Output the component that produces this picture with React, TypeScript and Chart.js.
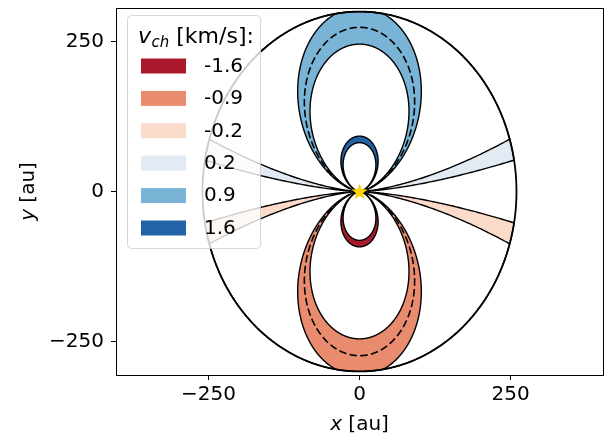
import React, { useEffect, useRef } from 'react';
import { Chart, registerables } from 'chart.js';

Chart.register(...registerables);

// ---- data ----
const channelVelocities = [-1.6, -0.9, -0.2, 0.2, 0.9, 1.6]; // km/s
const channelLabels = ['-1.6', '-0.9', '-0.2', '0.2', '0.9', '1.6'];
const channelColors = ['#a9182b', '#e98b6f', '#fbdccb', '#e2ebf3', '#79b4d6', '#2163a6'];
const channelHalfWidth = [0.05]; // km/s
const dashedVelocities = [-0.9, 0.9]; // km/s
const stellarMassMsun = [1.0];
const inclinationDeg = [30];
const diskRadiusAu = [300];
const xTickValues = [-250, 0, 250];
const yTickValues = [-250, 0, 250];
const xRange = [-403, 403];
const yRange = [-306, 306];

const GM_SUN = 887.13; // au (km/s)^2
const SAMPLES = 1400;
const FONT = "'DejaVu Sans', sans-serif";

type P = { x: number; y: number };

function geometry() {
  const inc = (inclinationDeg[0] * Math.PI) / 180;
  const K = GM_SUN * stellarMassMsun[0] * Math.sin(inc) ** 2;
  return { K, cosI: Math.cos(inc), R: diskRadiusAu[0] };
}

function isoRadius(phi: number, speed: number, K: number, R: number) {
  const c = Math.cos(phi);
  return Math.min(R, (K * c * c) / (speed * speed));
}

function toSky(r: number, phi: number, sign: number, cosI: number): P {
  return { x: r * Math.sin(phi) * cosI, y: sign * r * Math.cos(phi) };
}

function channelPolygon(v: number): P[] {
  const { K, cosI, R } = geometry();
  const s = Math.sign(v);
  const a = Math.abs(v);
  const dv = channelHalfWidth[0];
  const pts: P[] = [];
  for (let k = 0; k <= SAMPLES; k++) {
    const phi = -Math.PI / 2 + (Math.PI * k) / SAMPLES;
    pts.push(toSky(isoRadius(phi, a - dv, K, R), phi, s, cosI));
  }
  for (let k = SAMPLES; k >= 0; k--) {
    const phi = -Math.PI / 2 + (Math.PI * k) / SAMPLES;
    pts.push(toSky(isoRadius(phi, a + dv, K, R), phi, s, cosI));
  }
  return pts;
}

function isoCurve(v: number): P[] {
  const { K, cosI, R } = geometry();
  const s = Math.sign(v);
  const a = Math.abs(v);
  const pts: P[] = [];
  for (let k = 0; k <= SAMPLES; k++) {
    const phi = -Math.PI / 2 + (Math.PI * k) / SAMPLES;
    pts.push(toSky(isoRadius(phi, a, K, R), phi, s, cosI));
  }
  return pts;
}

function diskEdge(): P[] {
  const { cosI, R } = geometry();
  const pts: P[] = [];
  for (let k = 0; k <= 720; k++) {
    const t = (2 * Math.PI * k) / 720;
    pts.push({ x: R * Math.sin(t) * cosI, y: R * Math.cos(t) });
  }
  return pts;
}

function makeStar(): HTMLCanvasElement {
  const c = document.createElement('canvas');
  c.width = 17;
  c.height = 17;
  const g = c.getContext('2d')!;
  g.beginPath();
  for (let i = 0; i < 10; i++) {
    const r = i % 2 === 0 ? 7.8 : 3.2;
    const ang = -Math.PI / 2 + (i * Math.PI) / 5;
    const x = 8.5 + r * Math.cos(ang);
    const y = 9.2 + r * Math.sin(ang);
    if (i === 0) g.moveTo(x, y);
    else g.lineTo(x, y);
  }
  g.closePath();
  g.fillStyle = '#ffd700';
  g.fill();
  g.strokeStyle = '#f2c200';
  g.lineWidth = 0.6;
  g.stroke();
  return c;
}

const fmtTick = (v: number | string) => {
  const n = Number(v);
  return n < 0 ? '\u2212' + Math.abs(n) : String(n);
};

const annotationPlugin = {
  id: 'channelAnnotations',
  afterDraw(chart: any) {
    const ctx: CanvasRenderingContext2D = chart.ctx;
    const area = chart.chartArea;
    ctx.save();

    // ---- legend ----
    const bx = 127.5, by = 15.5, bw = 133, bh = 233, rad = 4;
    ctx.beginPath();
    ctx.moveTo(bx + rad, by);
    ctx.lineTo(bx + bw - rad, by);
    ctx.arcTo(bx + bw, by, bx + bw, by + rad, rad);
    ctx.lineTo(bx + bw, by + bh - rad);
    ctx.arcTo(bx + bw, by + bh, bx + bw - rad, by + bh, rad);
    ctx.lineTo(bx + rad, by + bh);
    ctx.arcTo(bx, by + bh, bx, by + bh - rad, rad);
    ctx.lineTo(bx, by + rad);
    ctx.arcTo(bx, by, bx + rad, by, rad);
    ctx.closePath();
    ctx.fillStyle = 'rgba(255,255,255,0.8)';
    ctx.fill();
    ctx.strokeStyle = 'rgba(204,204,204,0.8)';
    ctx.lineWidth = 1;
    ctx.stroke();

    ctx.fillStyle = '#000';
    ctx.textAlign = 'left';
    ctx.textBaseline = 'alphabetic';
    let tx = 138;
    ctx.font = `italic 22px ${FONT}`;
    ctx.fillText('v', tx, 43);
    tx += ctx.measureText('v').width + 0.5;
    ctx.font = `italic 15px ${FONT}`;
    ctx.fillText('ch', tx, 47);
    tx += ctx.measureText('ch').width;
    ctx.font = `22px ${FONT}`;
    ctx.fillText(' [km/s]:', tx, 43);

    ctx.textBaseline = 'middle';
    ctx.font = `20px ${FONT}`;
    channelLabels.forEach((lab, i) => {
      const y = 58.5 + i * 32.4;
      ctx.fillStyle = channelColors[i];
      ctx.fillRect(141, y, 45, 15);
      ctx.fillStyle = '#000';
      ctx.fillText(lab, 204, y + 8);
    });

    // ---- axis titles ----
    ctx.textBaseline = 'alphabetic';
    const cx = (area.left + area.right) / 2;
    ctx.font = `italic 20px ${FONT}`;
    const wx = ctx.measureText('x').width;
    ctx.font = `20px ${FONT}`;
    const wr = ctx.measureText(' [au]').width;
    let sx = cx - (wx + wr) / 2;
    ctx.font = `italic 20px ${FONT}`;
    ctx.fillText('x', sx, 430);
    ctx.font = `20px ${FONT}`;
    ctx.fillText(' [au]', sx + wx, 430);

    const cy = (area.top + area.bottom) / 2;
    ctx.translate(34, cy);
    ctx.rotate(-Math.PI / 2);
    ctx.font = `italic 20px ${FONT}`;
    const wy = ctx.measureText('y').width;
    sx = -(wy + wr) / 2;
    ctx.fillText('y', sx, 0);
    ctx.font = `20px ${FONT}`;
    ctx.fillText(' [au]', sx + wy, 0);

    ctx.restore();
  },
};

const zeroPad = (s: any) => {
  s.paddingTop = 0;
  s.paddingBottom = 0;
  s.paddingLeft = 0;
  s.paddingRight = 0;
};

export default function App() {
  const ref = useRef<HTMLCanvasElement>(null);

  useEffect(() => {
    document.body.style.margin = '0';
    const canvas = ref.current!;
    const star = makeStar();
    const lineBase = { showLine: true, pointRadius: 0, pointHoverRadius: 0, tension: 1e-6 };

    const datasets: any[] = [
      {
        data: [{ x: 0, y: 0 }],
        showLine: false,
        pointStyle: star,
        pointRadius: 7,
        pointHoverRadius: 7,
      },
      ...dashedVelocities.map((v) => ({
        ...lineBase,
        data: isoCurve(v),
        borderColor: '#000',
        borderWidth: 1.6,
        borderDash: [7.5, 3.3],
        fill: false,
      })),
      {
        ...lineBase,
        data: diskEdge(),
        borderColor: '#000',
        borderWidth: 1.8,
        fill: false,
      },
      ...channelVelocities.map((v, i) => ({
        ...lineBase,
        data: channelPolygon(v),
        borderColor: '#000',
        borderWidth: 1.4,
        backgroundColor: channelColors[i],
        fill: 'shape',
      })),
    ];

    const tickFont = { family: FONT, size: 20 };

    const chart = new Chart(canvas, {
      type: 'scatter',
      data: { datasets },
      options: {
        animation: false,
        responsive: false,
        devicePixelRatio: 1,
        events: [],
        layout: { padding: { left: 0, top: 3, right: 6, bottom: 0 } },
        plugins: {
          legend: { display: false },
          tooltip: { enabled: false },
        },
        scales: {
          x: {
            type: 'linear',
            position: 'bottom',
            min: xRange[0],
            max: xRange[1],
            afterBuildTicks: (s: any) => {
              s.ticks = xTickValues.map((v) => ({ value: v }));
            },
            afterFit: (s: any) => {
              s.height = 65;
              zeroPad(s);
            },
            grid: { drawOnChartArea: false, drawTicks: true, tickLength: 5, tickColor: '#000', tickWidth: 1 },
            border: { display: true, color: '#000', width: 1 },
            ticks: { color: '#000', font: tickFont, padding: 3, maxRotation: 0, autoSkip: false, callback: fmtTick },
          },
          y: {
            type: 'linear',
            position: 'left',
            min: yRange[0],
            max: yRange[1],
            afterBuildTicks: (s: any) => {
              s.ticks = yTickValues.map((v) => ({ value: v }));
            },
            afterFit: (s: any) => {
              s.width = 116;
              zeroPad(s);
            },
            grid: { drawOnChartArea: false, drawTicks: true, tickLength: 5, tickColor: '#000', tickWidth: 1 },
            border: { display: true, color: '#000', width: 1 },
            ticks: { color: '#000', font: tickFont, padding: 7, autoSkip: false, callback: fmtTick },
          },
          xTop: {
            type: 'linear',
            position: 'top',
            min: xRange[0],
            max: xRange[1],
            ticks: { display: false },
            grid: { display: false, drawTicks: false },
            border: { display: true, color: '#000', width: 1 },
            afterFit: (s: any) => {
              s.height = 0;
              zeroPad(s);
            },
          },
          yRight: {
            type: 'linear',
            position: 'right',
            min: yRange[0],
            max: yRange[1],
            ticks: { display: false },
            grid: { display: false, drawTicks: false },
            border: { display: true, color: '#000', width: 1 },
            afterFit: (s: any) => {
              s.width = 0;
              zeroPad(s);
            },
          },
        },
      } as any,
      plugins: [annotationPlugin],
    });

    return () => chart.destroy();
  }, []);

  return (
    <div style={{ position: 'absolute', left: 0, top: 0, width: 611, height: 440 }}>
      <canvas ref={ref} width={611} height={440} style={{ display: 'block', width: 611, height: 440 }} />
    </div>
  );
}
